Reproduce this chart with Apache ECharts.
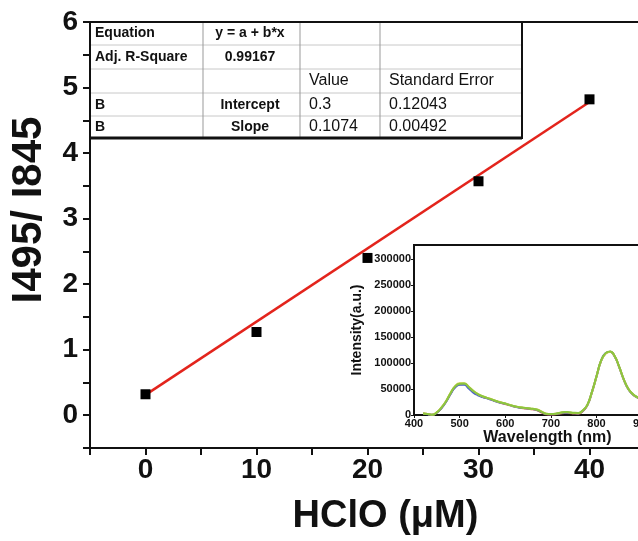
<!DOCTYPE html>
<html><head><meta charset="utf-8">
<script src="https://cdn.jsdelivr.net/npm/echarts@6/dist/echarts.min.js"></script>
<style>html,body{margin:0;padding:0;background:#fff}#c{width:638px;height:541px}</style>
</head><body><div id="c"></div>
<script>
// main calibration data
const hclo = [0, 10, 20, 30, 40];
const ratio = [0.32, 1.27, 2.40, 3.57, 4.82];
// fitted line end points
const fitX = [0, 40];
const fitY = [0.31, 4.78];

// fit result table
const tableRows = [
  ['Equation', 'y = a + b*x', '', ''],
  ['Adj. R-Square', '0.99167', '', ''],
  ['', '', 'Value', 'Standard Error'],
  ['B', 'Intercept', '0.3', '0.12043'],
  ['B', 'Slope', '0.1074', '0.00492']
];

// inset spectra
const wavelength = [420,430,440,450,460,470,480,490,500,510,520,530,540,550,560,570,580,590,600,610,620,630,640,650,660,670,680,690,700,710,720,730,740,750,760,770,780,790,800,810,820,830,840,850,860,870,880,890,900,910,920,930,940,950];
const specGreen  = [3000,2000,500,5000,14000,26000,42000,55000,60000,60500,54000,46000,40000,36000,33000,30000,27000,24000,22000,19000,17000,15000,14000,13000,12000,10000,6000,2500,2000,2500,4500,6000,5500,4500,4000,9000,20000,45000,75000,105000,119000,122000,113000,92000,68000,50000,40000,34000,30000,26000,22000,19000,16000,14000];
const specYellow = [3000,2000,500,5200,14500,26500,42500,55500,61000,61000,54500,46500,40500,36000,33000,30500,27000,24500,22000,19500,17000,15500,14000,13000,12000,10500,6500,2500,2000,2500,4000,5500,5000,4000,3500,8500,19500,44000,74000,104000,118000,121500,112500,91500,67500,49500,39500,34000,30000,26000,22000,19000,16000,14000];
const specBlue   = [2500,1500,300,4500,13000,25000,40000,53000,58000,58000,51000,43000,38000,34500,32000,29000,26000,23500,21500,19000,16500,14500,13500,12500,11500,9500,5500,2000,1500,2000,3500,4500,4500,3500,3000,8000,19000,44000,74000,104000,119000,121500,112000,91000,67000,49000,39000,33500,29500,25500,21500,18500,15500,13500];
const specRed    = [2800,1800,400,4800,13500,25500,41000,54000,59000,59500,53000,45000,39000,35000,32500,29500,26500,23500,21000,18500,16500,14500,13000,12000,11000,9000,4500,1500,1000,1500,3000,4000,4000,3000,2500,7500,19000,44500,74500,104500,118500,121500,112500,91500,67500,49500,39500,33500,29500,25500,21500,18500,15500,13500];

const xLabels = [0, 10, 20, 30, 40];
const yLabels = [0, 1, 2, 3, 4, 5, 6];

const FONT = '"Liberation Sans", Arial, sans-serif';

// table graphic (layout only)
const tblLeft = 90, tblTop = 22, tblW = 432, tblH = 116;
const rowLines = [45, 69, 93, 116];
const colLines = [203, 300, 380];
const rowCenters = [33, 57, 81, 105, 127];
const colPos = [
  {x: 95, align: 'left', weight: 'bold', size: 14},
  {x: 250, align: 'center', weight: 'bold', size: 14},
  {x: 309, align: 'left', weight: 'normal', size: 16},
  {x: 389, align: 'left', weight: 'normal', size: 16}
];
const graphics = [];
graphics.push({type: 'rect', shape: {x: tblLeft, y: tblTop, width: tblW, height: tblH}, style: {fill: '#fff', stroke: null}, z: 100});
rowLines.forEach(y => graphics.push({type: 'line', shape: {x1: tblLeft, y1: y, x2: tblLeft + tblW, y2: y}, style: {stroke: '#c8c8c8', lineWidth: 1}, z: 101}));
colLines.forEach(x => graphics.push({type: 'line', shape: {x1: x, y1: tblTop, x2: x, y2: tblTop + tblH}, style: {stroke: '#999', lineWidth: 1}, z: 101}));
graphics.push({type: 'rect', shape: {x: tblLeft, y: tblTop, width: tblW, height: tblH}, style: {fill: null, stroke: '#111', lineWidth: 2}, z: 102});
graphics.push({type: 'line', shape: {x1: tblLeft, y1: tblTop + tblH, x2: tblLeft + tblW, y2: tblTop + tblH}, style: {stroke: '#111', lineWidth: 3}, z: 102});
tableRows.forEach((row, r) => row.forEach((txt, c) => {
  if (!txt) return;
  const cp = colPos[c];
  graphics.push({type: 'text', x: cp.x, y: rowCenters[r], z: 103,
    style: {text: txt, fill: '#111', font: cp.weight + ' ' + cp.size + 'px ' + FONT, textAlign: cp.align, textVerticalAlign: 'middle'}});
}));

const chart = echarts.init(document.getElementById('c'), null, {renderer: 'canvas'});
chart.setOption({
  animation: false,
  backgroundColor: '#fff',
  textStyle: {fontFamily: FONT},
  grid: [
    {left: 90, top: 22, width: 555, height: 426, show: true, borderColor: '#111', borderWidth: 2, backgroundColor: 'transparent', containLabel: false, outerBoundsMode: 'none'},
    {left: 414, top: 245, width: 251, height: 170, show: true, borderColor: '#111', borderWidth: 2, backgroundColor: '#fff', containLabel: false, outerBoundsMode: 'none'}
  ],
  xAxis: [
    {type: 'value', gridIndex: 0, min: -5, max: 45, interval: 5,
     axisLine: {show: true, onZero: false, lineStyle: {color: '#111', width: 2}},
     axisTick: {show: true, length: 7, lineStyle: {color: '#111', width: 2}},
     splitLine: {show: false},
     axisLabel: {margin: 8, color: '#111', fontSize: 28, fontWeight: 'bold', fontFamily: FONT,
       formatter: v => xLabels.indexOf(Math.round(v)) >= 0 && Math.abs(v - Math.round(v)) < 1e-6 ? String(Math.round(v)) : ''},
     name: 'HClO (μM)', nameLocation: 'middle', nameGap: 50,
     nameTextStyle: {color: '#111', fontSize: 38, fontWeight: 'bold', fontFamily: FONT, padding: [0, 0, 0, 36]}},
    {type: 'value', gridIndex: 1, min: 400, max: 950, interval: 100,
     axisLine: {show: true, onZero: false, lineStyle: {color: '#111', width: 2}},
     axisTick: {show: true, length: 3, lineStyle: {color: '#111'}},
     splitLine: {show: false},
     axisLabel: {margin: 3, color: '#111', fontSize: 11, fontWeight: 'bold', fontFamily: FONT, showMaxLabel: false, formatter: v => String(v)},
     name: 'Wavelength (nm)', nameLocation: 'middle', nameGap: 6,
     nameTextStyle: {color: '#111', fontSize: 16, fontWeight: 'bold', fontFamily: FONT, padding: [0, 0, 0, 16]}}
  ],
  yAxis: [
    {type: 'value', gridIndex: 0, min: -0.5, max: 6, interval: 0.5,
     axisLine: {show: true, onZero: false, lineStyle: {color: '#111', width: 2}},
     axisTick: {show: true, length: 7, lineStyle: {color: '#111', width: 2}},
     splitLine: {show: false},
     axisLabel: {margin: 12, color: '#111', fontSize: 28, fontWeight: 'bold', fontFamily: FONT,
       formatter: v => yLabels.indexOf(Math.round(v)) >= 0 && Math.abs(v - Math.round(v)) < 1e-6 ? String(Math.round(v)) : ''},
     name: 'I495/ I845', nameLocation: 'middle', nameGap: 40, nameRotate: 90,
     nameTextStyle: {color: '#111', fontSize: 42, fontWeight: 'bold', fontFamily: FONT, padding: [0, 0, 0, 50]}},
    {type: 'value', gridIndex: 1, min: 0, max: 327000, interval: 50000,
     axisLine: {show: true, onZero: false, lineStyle: {color: '#111', width: 2}},
     axisTick: {show: true, length: 3, lineStyle: {color: '#111'}},
     splitLine: {show: false},
     axisLabel: {margin: 3, color: '#111', fontSize: 11, fontWeight: 'bold', fontFamily: FONT, showMaxLabel: false, formatter: v => String(v)},
     name: 'Intensity(a.u.)', nameLocation: 'middle', nameGap: 50, nameRotate: 90,
     nameTextStyle: {color: '#111', fontSize: 14, fontWeight: 'bold', fontFamily: FONT}}
  ],
  series: [
    {type: 'line', xAxisIndex: 0, yAxisIndex: 0, data: fitX.map((x, i) => [x, fitY[i]]),
     symbol: 'none', lineStyle: {color: '#e3241c', width: 2.5}, z: 5},
    {type: 'scatter', xAxisIndex: 0, yAxisIndex: 0, data: hclo.map((x, i) => [x, ratio[i]]),
     symbol: 'rect', symbolSize: 10, itemStyle: {color: '#000', opacity: 1}, z: 6},
    {type: 'line', xAxisIndex: 1, yAxisIndex: 1, data: wavelength.map((w, i) => [w, specRed[i]]),
     smooth: true, symbol: 'none', lineStyle: {color: '#d9603b', width: 2}, z: 3},
    {type: 'line', xAxisIndex: 1, yAxisIndex: 1, data: wavelength.map((w, i) => [w, specBlue[i]]),
     smooth: true, symbol: 'none', lineStyle: {color: '#4b63c8', width: 2}, z: 3},
    {type: 'line', xAxisIndex: 1, yAxisIndex: 1, data: wavelength.map((w, i) => [w, specYellow[i]]),
     smooth: true, symbol: 'none', lineStyle: {color: '#d6d44a', width: 2}, z: 3},
    {type: 'line', xAxisIndex: 1, yAxisIndex: 1, data: wavelength.map((w, i) => [w, specGreen[i]]),
     smooth: true, symbol: 'none', lineStyle: {color: '#8cc63f', width: 2}, z: 3}
  ],
  graphic: graphics
});
</script></body></html>
